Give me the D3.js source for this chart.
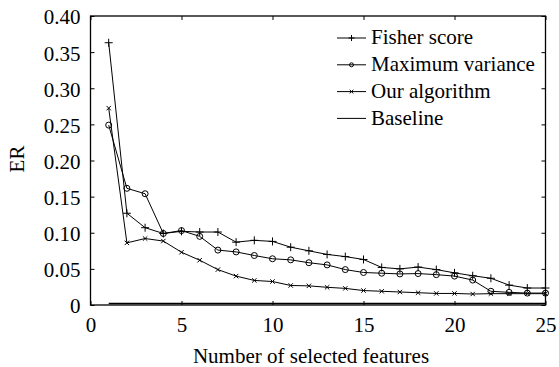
<!DOCTYPE html>
<html>
<head>
<meta charset="utf-8">
<script src="https://cdn.jsdelivr.net/npm/d3@7"></script>
<style>
  body { margin: 0; background: #fff; }
  svg { display: block; }
  text { font-family: "Liberation Serif", "Times New Roman", serif; fill: #000; }
</style>
</head>
<body>
<div id="chart"></div>
<script>
// number of selected features
const features = d3.range(1, 26);

const fisherScore = [0.363, 0.127, 0.107, 0.099, 0.102, 0.101, 0.101, 0.087, 0.0895, 0.088,
  0.080, 0.075, 0.070, 0.067, 0.063, 0.052, 0.050, 0.0525, 0.049, 0.0445,
  0.0405, 0.037, 0.0275, 0.0235, 0.0235];
const maxVariance = [0.249, 0.1615, 0.154, 0.099, 0.103, 0.095, 0.076, 0.0735, 0.0685, 0.064,
  0.0625, 0.0585, 0.0555, 0.049, 0.045, 0.044, 0.043, 0.0435, 0.042, 0.040,
  0.0345, 0.019, 0.0175, 0.0165, 0.0165];
const ourAlgorithm = [0.2725, 0.086, 0.092, 0.0885, 0.073, 0.062, 0.049, 0.040, 0.034, 0.0325,
  0.027, 0.0265, 0.0245, 0.023, 0.020, 0.019, 0.018, 0.017, 0.016, 0.016,
  0.0152, 0.0157, 0.0157, 0.0157, 0.0157];
const baseline = 0.002;

const seriesNames = ['Fisher score', 'Maximum variance', 'Our algorithm', 'Baseline'];
const xTicks = [0, 5, 10, 15, 20, 25];
const yTicks = [0, 0.05, 0.10, 0.15, 0.20, 0.25, 0.30, 0.35, 0.40];

const width = 559, height = 367;
const margin = { top: 16, right: 13.5, bottom: 62, left: 90.5 };
const w = width - margin.left - margin.right;
const h = height - margin.top - margin.bottom;
const fontSize = 21;

const svg = d3.select('#chart').append('svg')
  .attr('width', width)
  .attr('height', height);

const g = svg.append('g')
  .attr('transform', `translate(${margin.left},${margin.top})`);

const x = d3.scaleLinear().domain([0, 25]).range([0, w]);
const y = d3.scaleLinear().domain([0, 0.4]).range([h, 0]);

const fmtY = d => d === 0 ? '0' : d3.format('.2f')(d);

// axes with inward ticks, box style
g.append('g')
  .attr('transform', `translate(0,${h})`)
  .call(d3.axisBottom(x).tickValues(xTicks).tickSizeInner(-4).tickSizeOuter(0).tickPadding(12))
  .call(a => a.select('.domain').remove());
g.append('g')
  .call(d3.axisTop(x).tickValues(xTicks).tickSizeInner(-4).tickSizeOuter(0).tickFormat(''))
  .call(a => a.select('.domain').remove());
g.append('g')
  .call(d3.axisLeft(y).tickValues(yTicks).tickSizeInner(-4).tickSizeOuter(0).tickPadding(10).tickFormat(fmtY))
  .call(a => a.select('.domain').remove())
  .call(a => a.selectAll('.tick text').attr('dy', '0.38em'));
g.append('g')
  .attr('transform', `translate(${w},0)`)
  .call(d3.axisRight(y).tickValues(yTicks).tickSizeInner(-4).tickSizeOuter(0).tickFormat(''))
  .call(a => a.select('.domain').remove());

g.selectAll('.tick text').attr('font-size', fontSize);
g.selectAll('.tick line').attr('stroke', '#000');

g.append('rect')
  .attr('width', w).attr('height', h)
  .attr('fill', 'none').attr('stroke', '#000').attr('stroke-width', 1.3);

const line = d3.line().x((d, i) => x(features[i])).y(d => y(d));

// markers
function plus(sel, s) {
  sel.append('path').attr('d', `M${-s},0H${s}M0,${-s}V${s}`);
}
function cross(sel, s) {
  sel.append('path').attr('d', `M${-s},${-s}L${s},${s}M${-s},${s}L${s},${-s}`);
}
function circle(sel, r) {
  sel.append('circle').attr('r', r).attr('fill', 'none');
}

const series = [
  { values: fisherScore, marker: s => plus(s, 4) },
  { values: maxVariance, marker: s => circle(s, 3) },
  { values: ourAlgorithm, marker: s => cross(s, 2.2) }
];

series.forEach(sr => {
  g.append('path')
    .datum(sr.values)
    .attr('d', line)
    .attr('fill', 'none')
    .attr('stroke', '#000')
    .attr('stroke-width', 1);
  g.selectAll(null)
    .data(sr.values)
    .enter()
    .append('g')
    .attr('transform', (d, i) => `translate(${x(features[i])},${y(d)})`)
    .attr('stroke', '#000')
    .attr('stroke-width', 1)
    .each(function() { sr.marker(d3.select(this)); });
});

// baseline
g.append('line')
  .attr('x1', x(1)).attr('x2', x(25))
  .attr('y1', y(baseline)).attr('y2', y(baseline))
  .attr('stroke', '#000').attr('stroke-width', 1.6);

// legend
const legend = svg.append('g').attr('transform', 'translate(337,38)');
const legendMarkers = [s => plus(s, 3), s => circle(s, 2), s => cross(s, 1.8), null];
seriesNames.forEach((name, i) => {
  const row = legend.append('g').attr('transform', `translate(0,${i * 26.8})`);
  row.append('line').attr('x1', 0).attr('x2', 29).attr('stroke', '#000');
  if (legendMarkers[i]) {
    const m = row.append('g').attr('transform', 'translate(14.5,0)').attr('stroke', '#000');
    legendMarkers[i](m);
  }
  row.append('text')
    .attr('x', 34).attr('dy', '0.3em')
    .attr('font-size', fontSize)
    .text(name);
});

// axis titles
svg.append('text')
  .attr('x', 311).attr('y', 363)
  .attr('text-anchor', 'middle')
  .attr('font-size', fontSize)
  .text('Number of selected features');

svg.append('text')
  .attr('transform', `translate(24,159) rotate(-90)`)
  .attr('text-anchor', 'middle')
  .attr('font-size', fontSize)
  .text('ER');
</script>
</body>
</html>
